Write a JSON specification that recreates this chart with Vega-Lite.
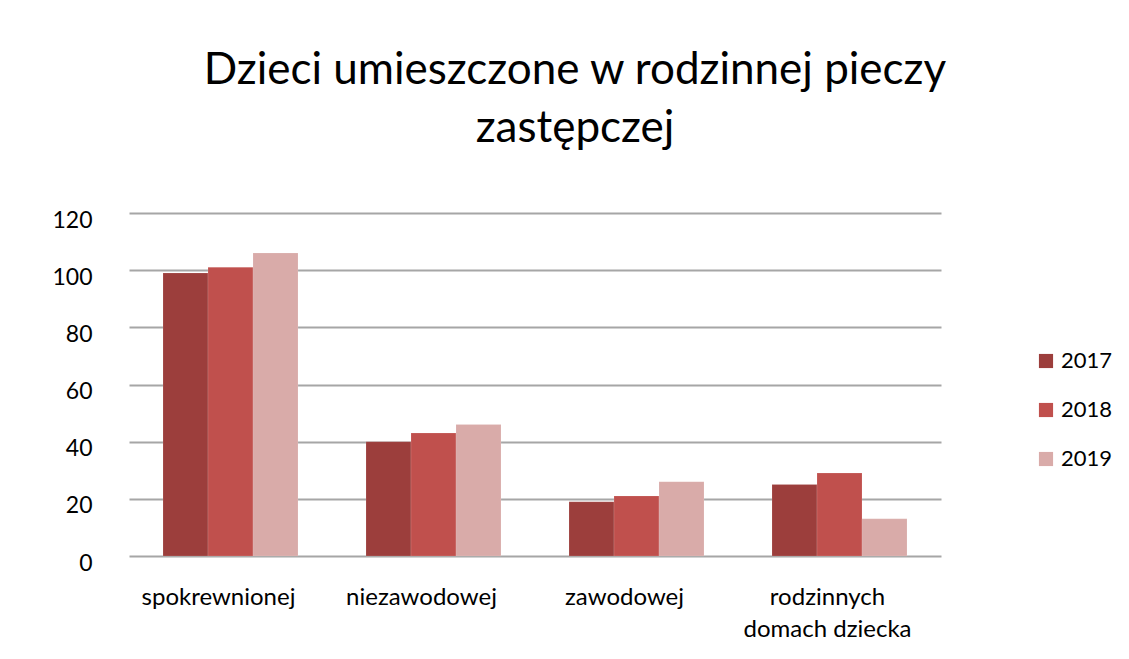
{
  "$schema": "https://vega.github.io/schema/vega-lite/v6.json",
  "autosize": {"type": "none"},
  "width": 812,
  "height": 343,
  "padding": {"left": 129, "top": 213, "right": 188, "bottom": 103},
  "background": "white",
  "title": {
    "text": ["Dzieci umieszczone w rodzinnej pieczy", "zastępczej"],
    "font": "Lato",
    "fontSize": 44,
    "fontWeight": "normal",
    "color": "#000000",
    "lineHeight": 58,
    "anchor": "middle",
    "dx": 40,
    "offset": 58
  },
  "data": {
    "values": [
      {"kategoria": "spokrewnionej", "rok": "2017", "wartosc": 99},
      {"kategoria": "spokrewnionej", "rok": "2018", "wartosc": 101},
      {"kategoria": "spokrewnionej", "rok": "2019", "wartosc": 106},
      {"kategoria": "niezawodowej", "rok": "2017", "wartosc": 40},
      {"kategoria": "niezawodowej", "rok": "2018", "wartosc": 43},
      {"kategoria": "niezawodowej", "rok": "2019", "wartosc": 46},
      {"kategoria": "zawodowej", "rok": "2017", "wartosc": 19},
      {"kategoria": "zawodowej", "rok": "2018", "wartosc": 21},
      {"kategoria": "zawodowej", "rok": "2019", "wartosc": 26},
      {"kategoria": "rodzinnych domach dziecka", "rok": "2017", "wartosc": 25},
      {"kategoria": "rodzinnych domach dziecka", "rok": "2018", "wartosc": 29},
      {"kategoria": "rodzinnych domach dziecka", "rok": "2019", "wartosc": 13}
    ]
  },
  "mark": {"type": "bar", "stroke": "#ffffff", "strokeOpacity": 0.25, "strokeWidth": 0.5},
  "encoding": {
    "x": {
      "field": "kategoria",
      "type": "nominal",
      "sort": ["spokrewnionej", "niezawodowej", "zawodowej", "rodzinnych domach dziecka"],
      "scale": {"paddingInner": 0.335, "paddingOuter": 0.1675},
      "axis": {
        "title": null,
        "labelAngle": 0,
        "labelFont": "Lato",
        "labelFontSize": 24,
        "labelColor": "#000000",
        "labelPadding": 29,
        "labelOffset": -12,
        "labelLineHeight": 32,
        "labelBaseline": "top",
        "ticks": false,
        "domain": false,
        "grid": false,
        "labelExpr": "datum.value == 'rodzinnych domach dziecka' ? ['rodzinnych', 'domach dziecka'] : datum.value"
      }
    },
    "xOffset": {"field": "rok", "type": "nominal", "scale": {"paddingInner": 0, "paddingOuter": 0}},
    "y": {
      "field": "wartosc",
      "type": "quantitative",
      "scale": {"domain": [0, 120], "nice": false},
      "axis": {
        "title": null,
        "values": [0, 20, 40, 60, 80, 100, 120],
        "labelFont": "Lato",
        "labelFontSize": 23,
        "labelColor": "#000000",
        "labelPadding": 37,
        "labelOffset": 7,
        "ticks": false,
        "domain": false,
        "grid": true,
        "gridColor": "#A6A6A6",
        "gridWidth": 2
      }
    },
    "color": {
      "field": "rok",
      "type": "nominal",
      "scale": {"domain": ["2017", "2018", "2019"], "range": ["#9C3E3C", "#C0504D", "#D9ABA9"]},
      "legend": {
        "title": null,
        "orient": "none",
        "legendX": 906,
        "legendY": 137,
        "symbolType": "square",
        "symbolSize": 200,
        "symbolStrokeWidth": 0,
        "labelFont": "Lato",
        "labelFontSize": 22,
        "labelColor": "#000000",
        "labelOffset": 4,
        "rowPadding": 27
      }
    }
  },
  "config": {
    "view": {"stroke": null}
  }
}
